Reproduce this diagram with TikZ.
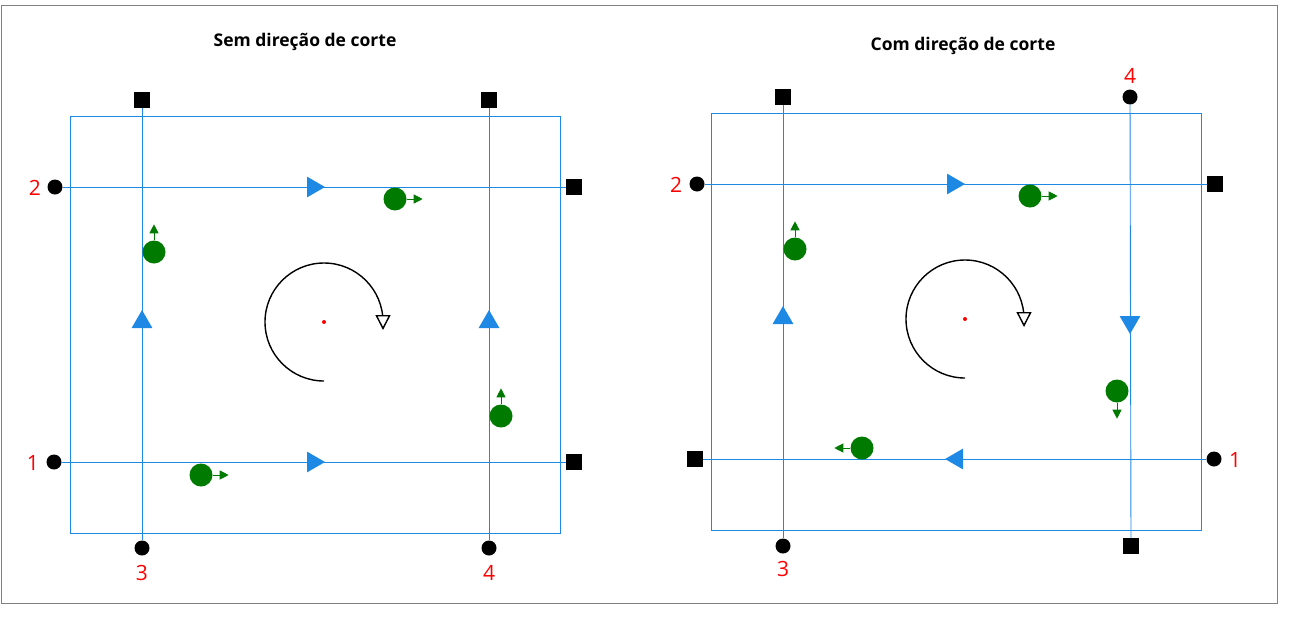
\documentclass[tikz,border=0pt]{standalone}
\usepackage{fontspec}
\setmainfont{Open Sans}
\usetikzlibrary{arrows.meta,shapes.geometric}
\definecolor{bl}{RGB}{30,136,229}
\definecolor{gr}{RGB}{0,122,0}
\tikzset{
 ln/.style={draw=bl,line width=0.9pt},
 tri/.style={fill=bl,draw=none,minimum size=24pt,inner sep=0pt,regular polygon,regular polygon sides=3},
 sq/.style={fill=black,minimum size=16pt,inner sep=0pt},
 dot/.style={circle,fill=black,minimum size=15pt,inner sep=0pt},
 gd/.style={circle,fill=gr,minimum size=23pt,inner sep=0pt},
 ga/.style={draw=gr,line width=1pt,-{Triangle[length=9pt,width=9pt]}},
 num/.style={text=red,font=\fontsize{21}{21}\selectfont},
 ttl/.style={font=\bfseries\fontsize{17.5}{17.5}\selectfont},
 rot/.style={line width=1.4pt,-{Triangle[open,length=15pt,width=15pt,fill=white]}}
}
\begin{document}
\begin{tikzpicture}[x=1pt,y=-1pt]
\useasboundingbox (0,0) rectangle (1301,619);
\draw[gray,line width=1pt] (1,5) rectangle (1277,603);
% left
\node[ttl] (t1) at (305,42) {Sem direção de corte};
\draw[ln] (70,116) rectangle (560,533);
\node[sq] (a1) at (142,100) {}; \node[dot] (a2) at (142,548) {};
\node[sq] (b1) at (489,100) {}; \node[dot] (b2) at (489,548) {};
\node[dot] (c1) at (55,187) {}; \node[sq] (c2) at (574,187) {};
\node[dot] (d1) at (54,462) {}; \node[sq] (d2) at (574,462) {};
\draw[ln] (a1)--(a2); \draw[ln] (b1)--(b2); \draw[ln] (c1)--(c2); \draw[ln] (d1)--(d2);
\node[tri,rotate=-90] (e1) at (313,187) {};
\node[tri,rotate=-90] (e2) at (313,462) {};
\node[tri] (e3) at (142,322) {};
\node[tri] (e4) at (489,322) {};
\node[num] (n2) at (35,188) {2}; \node[num] (n1) at (33,463) {1};
\node[num] (n3) at (142,573) {3}; \node[num] (n4) at (489,573) {4};
\node[gd] (g1) at (395,199) {}; \draw[ga] (g1.east)--++(16,0);
\node[gd] (g2) at (154,252) {}; \draw[ga] (g2.north)--++(0,-16);
\node[gd] (g3) at (501,416) {}; \draw[ga] (g3.north)--++(0,-16);
\node[gd] (g4) at (201,475) {}; \draw[ga] (g4.east)--++(16,0);
\coordinate (o1) at (324,322);
\fill[red] (o1) circle (2pt);
\draw[rot] (324,381) arc[start angle=90,end angle=360,radius=59] -- ++(0,8);
% right
\node[ttl] (t2) at (963,46) {Com direção de corte};
\draw[ln] (711,113) rectangle (1201,530);
\node[sq] (p1) at (783,97) {}; \node[dot] (p2) at (783,546) {};
\node[dot] (q1) at (1130,97) {}; \node[sq] (q2) at (1131,546) {};
\node[dot] (r1) at (697,184) {}; \node[sq] (r2) at (1215,184) {};
\node[sq] (s1) at (695,459) {}; \node[dot] (s2) at (1214,459) {};
\draw[ln] (p1)--(p2); \draw[ln] (q1)--(q2); \draw[ln] (r1)--(r2); \draw[ln] (s1)--(s2);
\node[tri,rotate=-90] (f1) at (953,184) {};
\node[tri,rotate=90] (f2) at (957,459) {};
\node[tri] (f3) at (783,318) {};
\node[tri,rotate=180] (f4) at (1130,322) {};
\node[num] (m2) at (676,185) {2}; \node[num] (m1) at (1235,460) {1};
\node[num] (m3) at (783,569) {3}; \node[num] (m4) at (1130,76) {4};
\node[gd] (h1) at (1030,196) {}; \draw[ga] (h1.east)--++(16,0);
\node[gd] (h2) at (795,249) {}; \draw[ga] (h2.north)--++(0,-16);
\node[gd] (h3) at (1117,391) {}; \draw[ga] (h3.south)--++(0,16);
\node[gd] (h4) at (862,448) {}; \draw[ga] (h4.west)--++(-16,0);
\coordinate (o2) at (965,319);
\fill[red] (o2) circle (2pt);
\draw[rot] (965,378) arc[start angle=90,end angle=360,radius=59] -- ++(0,8);
\end{tikzpicture}
\end{document}
